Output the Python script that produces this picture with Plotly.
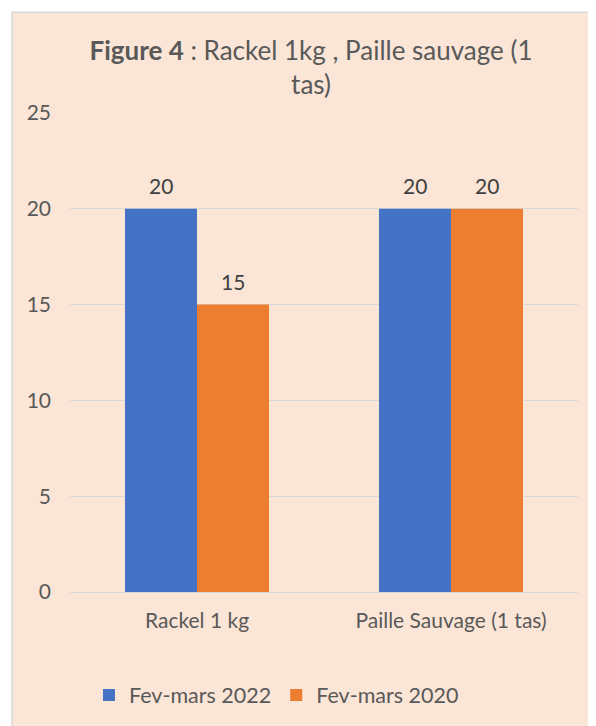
import plotly.graph_objects as go

categories = ["Rackel 1 kg", "Paille Sauvage (1 tas)"]
series_names = ["Fev-mars 2022", "Fev-mars 2020"]
values_2022 = [20, 20]
values_2020 = [15, 20]
colors = ["#4472C4", "#ED7D31"]
y_ticks = [0, 5, 10, 15, 20, 25]

# page has an 8px body margin; figure is drawn in page coords minus 8
W, H = 588, 718
L, R, T, B = 62, 18, 105, 133
pw, ph = W - L - R, H - T - B

fig = go.Figure()
series = [values_2022, values_2020]
for name, vals, col in zip(series_names, series, colors):
    fig.add_trace(go.Bar(x=categories, y=vals, name=name, marker_color=col,
                         marker_line_width=0))

annotations = []
for i, vals in enumerate(series):
    shift = -36 if i == 0 else 36
    for c, v in zip(categories, vals):
        annotations.append(dict(x=c, y=v, text=str(v), showarrow=False,
                                xshift=shift, yshift=23, yanchor="middle",
                                font=dict(family="Lato", size=21, color="#404040")))

fig.update_layout(
    width=W, height=H,
    margin=dict(l=L, r=R, t=T, b=B),
    paper_bgcolor="white",
    plot_bgcolor="rgba(0,0,0,0)",
    barmode="group", bargap=0.433, bargroupgap=0,
    font=dict(family="Lato", color="#595959"),
    title=dict(text="<b>Figure 4</b> : Rackel 1kg , Paille sauvage (1<br>tas)",
               x=303 / W, xanchor="center", y=1 - 52 / H, yanchor="top",
               font=dict(family="Lato", size=26, color="#595959")),
    xaxis=dict(showgrid=False, showline=False, ticks="",
               tickfont=dict(family="Lato", size=21, color="#595959"),
               ticklabelstandoff=14),
    yaxis=dict(range=[0, 25], tickvals=y_ticks, showgrid=True, gridcolor="#D9D9D9",
               gridwidth=1, zeroline=True, zerolinecolor="#D9D9D9", zerolinewidth=1,
               showline=False, ticks="",
               tickfont=dict(family="Lato", size=21, color="#595959"),
               ticklabelstandoff=18),
    legend=dict(orientation="h", x=239 / W, xanchor="center", y=-(687 - (H - B)) / ph,
                yanchor="middle", font=dict(family="Lato", size=21.5, color="#595959"),
                bgcolor="rgba(0,0,0,0)", itemwidth=30),
    annotations=annotations,
    shapes=[dict(type="rect", xref="paper", yref="paper", layer="below",
                 x0=(4 - L) / pw, x1=(W + 5 - L) / pw,
                 y0=-(H + 5 - (H - B)) / ph, y1=((H - B) - 4) / ph,
                 fillcolor="#FBE5D6", line=dict(color="#D9D9D9", width=1.5))],
)

fig.write_html("out.html")
